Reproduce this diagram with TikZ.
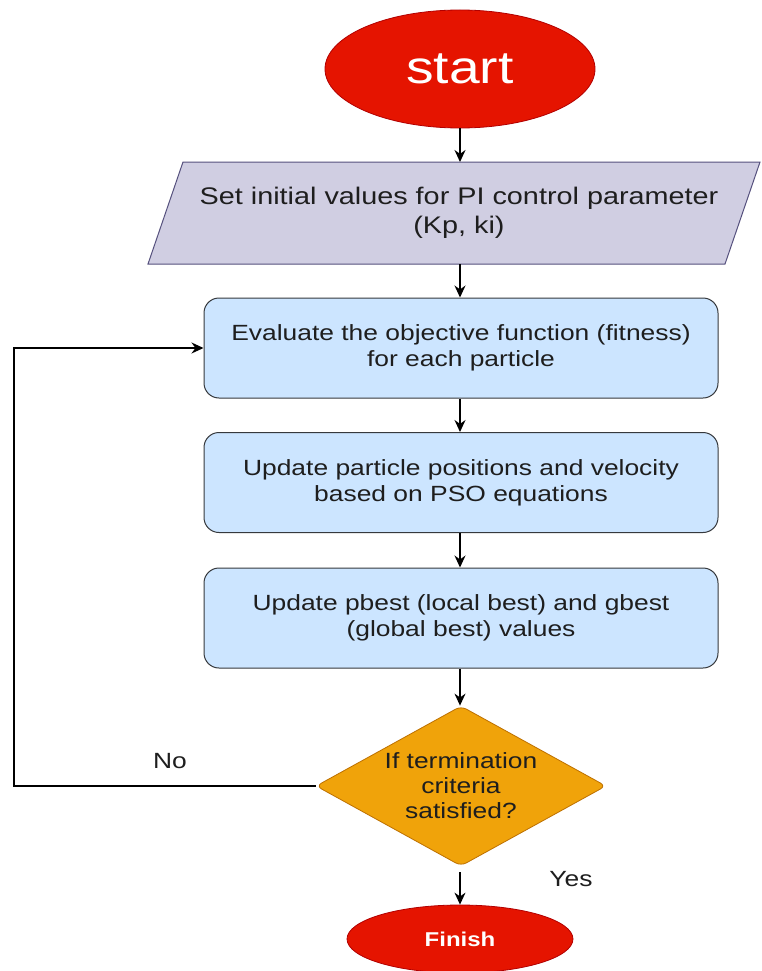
\documentclass[tikz,border=0pt]{standalone}
\usepackage{fontspec}
\setmainfont{Liberation Sans}[FakeStretch=1.2]
\usetikzlibrary{shapes.geometric,arrows.meta}
\definecolor{redfill}{HTML}{E51400}
\definecolor{redline}{HTML}{B20000}
\definecolor{parafill}{HTML}{D0CEE2}
\definecolor{paraline}{HTML}{56517E}
\definecolor{boxfill}{HTML}{CCE5FF}
\definecolor{boxline}{HTML}{36393D}
\definecolor{decfill}{HTML}{F0A30A}
\definecolor{decline}{HTML}{BD7000}
\definecolor{txt}{HTML}{1E1E1E}
\tikzset{
  term/.style={ellipse, fill=redfill, draw=redline, line width=0.8pt, inner sep=0pt, text=white},
  procbox/.style={rectangle, rounded corners=15pt, fill=boxfill, draw=boxline, line width=1pt,
    minimum width=514pt, minimum height=100pt, inner sep=0pt, align=center, text=txt,
    font=\fontsize{22}{26}\selectfont},
  decbox/.style={diamond, aspect=1.81, rounded corners=6pt, fill=decfill, draw=decline, line width=0.8pt,
    minimum width=290pt, minimum height=160pt, inner sep=0pt, align=center, text=txt,
    font=\fontsize{22}{25}\selectfont},
  flow/.style={draw=black, line width=1.4pt, -{Stealth[length=12pt,width=11pt]}},
  lbl/.style={text=txt, font=\fontsize{22}{26}\selectfont, inner sep=0pt}
}
\begin{document}
\begin{tikzpicture}[x=1pt,y=-1pt]
\useasboundingbox (0,0) rectangle (761,971);
\fill[white] (0,0) rectangle (761,971);
% start
\node[term, minimum width=270pt, minimum height=118pt, font=\fontsize{46}{50}\selectfont] (start) at (460,69) {start};
% parallelogram
\filldraw[fill=parafill, draw=paraline, line width=1pt] (183,162) -- (760,162) -- (725,264) -- (148,264) -- cycle;
\coordinate (paraT) at (460,162);
\coordinate (paraB) at (460,264);
\node[align=center, text=txt, font=\fontsize{24}{29}\selectfont, inner sep=0pt] (para) at (459,213)
  {Set initial values for PI control parameter\\(Kp, ki)};
% boxes
\node[procbox] (b1) at (461,348) {Evaluate the objective function (fitness)\\for each particle};
\node[procbox] (b2) at (461,482.5) {Update particle positions and velocity\\based on PSO equations};
\node[procbox] (b3) at (461,618) {Update pbest (local best) and gbest\\(global best) values};
% decision
\node[decbox] (dec) at (461,786) {If termination\\criteria\\satisfied?};
% finish
\node[term, minimum width=226pt, minimum height=68pt, font=\fontsize{20}{24}\selectfont\bfseries] (fin) at (460,939) {Finish};
% connectors
\draw[flow] (start.south) -- (paraT);
\draw[flow] (paraB) -- (b1.north -| paraB);
\draw[flow] (b1.south -| paraB) -- (b2.north -| paraB);
\draw[flow] (b2.south -| paraB) -- (b3.north -| paraB);
\draw[flow] (b3.south -| paraB) -- (dec.north -| paraB);
\coordinate (decS) at (460,872);
\draw[flow] (decS) -- (fin.north);
\coordinate (loop) at (14,786);
\draw[flow] (dec.west) -- (loop) |- (b1.west);
% labels
\node[lbl] (no) at (170,761) {No};
\node[lbl] (yes) at (571,879) {Yes};
\end{tikzpicture}
\end{document}
